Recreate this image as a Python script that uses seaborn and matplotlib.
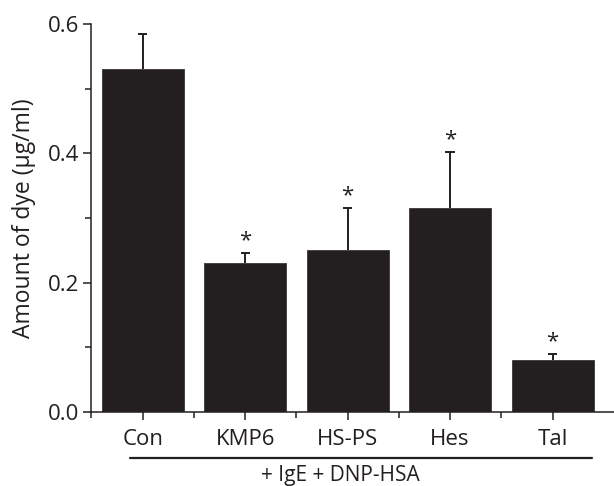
import numpy as np
import pandas as pd
import matplotlib
matplotlib.use("Agg")
import matplotlib.pyplot as plt
import seaborn as sns
from matplotlib.ticker import MultipleLocator, FixedLocator

# --- Data ---
groups = ["Con", "KMP6", "HS-PS", "Hes", "Tal"]
dye_mean = [0.530, 0.230, 0.250, 0.315, 0.081]
dye_err = [0.054, 0.016, 0.066, 0.087, 0.009]
significant = [False, True, True, True, True]

BAR_COLOR = "#231f20"

sns.set_theme(style="ticks")
plt.rcParams["font.family"] = ["Open Sans", "DejaVu Sans"]

df = pd.DataFrame({"group": groups, "dye": dye_mean})

fig = plt.figure(figsize=(6.14, 4.86), dpi=100)
ax = fig.add_axes([0.149, 0.152, 0.851, 0.799])

sns.barplot(data=df, x="group", y="dye", color=BAR_COLOR, width=0.8,
            errorbar=None, saturation=1, edgecolor="#3a3637", linewidth=0.6, ax=ax)

# upper-only error bars (stem + top cap)
xs = np.arange(len(groups))
tops = np.array(dye_mean) + np.array(dye_err)
ax.vlines(xs, dye_mean, tops, color=BAR_COLOR, linewidth=1.4)
ax.hlines(tops, xs - 0.045, xs + 0.045, color=BAR_COLOR, linewidth=1.4)

for i, sig in enumerate(significant):
    if sig:
        ax.text(i, tops[i] + 0.002, "*", ha="center", va="bottom",
                fontsize=16, color=BAR_COLOR)

ax.set_xlim(-0.5, 4.6)
ax.set_ylim(0, 0.6)
ax.yaxis.set_major_locator(MultipleLocator(0.2))
ax.yaxis.set_minor_locator(MultipleLocator(0.1))
ax.xaxis.set_minor_locator(FixedLocator(np.arange(-0.5, 4.0, 1.0)))
ax.yaxis.set_major_formatter(matplotlib.ticker.FormatStrFormatter("%.1f"))

ax.tick_params(axis="both", which="major", length=6, width=1.1, color=BAR_COLOR,
               labelsize=16, labelcolor=BAR_COLOR)
ax.tick_params(axis="both", which="minor", length=4, width=1.1, color=BAR_COLOR)
ax.tick_params(axis="x", which="major", pad=6)
ax.tick_params(axis="y", which="major", pad=3)

ax.set_xlabel("")
ax.set_ylabel("Amount of dye (\u03bcg/ml)", fontsize=16.5, color=BAR_COLOR, labelpad=8)

for side in ["top", "right"]:
    ax.spines[side].set_visible(False)
for side in ["left", "bottom"]:
    ax.spines[side].set_linewidth(1.1)
    ax.spines[side].set_color(BAR_COLOR)

# treatment bracket below the group labels
trans = ax.get_xaxis_transform()
ax.plot([-0.127, 4.39], [-0.118, -0.118], transform=trans, color=BAR_COLOR,
        linewidth=1.6, clip_on=False)
ax.text(1.93, -0.162, "+ IgE + DNP-HSA", transform=trans, ha="center", va="center",
        fontsize=15, color=BAR_COLOR)

fig.savefig("out.png", dpi=100)
